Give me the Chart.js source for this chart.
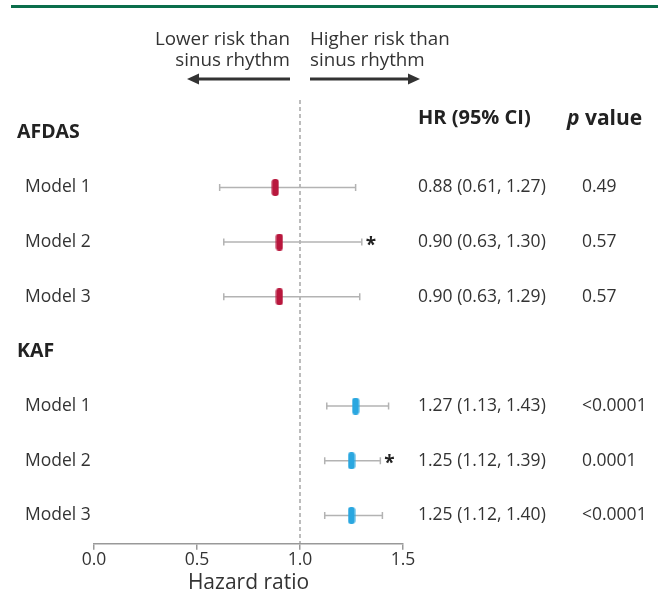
<!DOCTYPE html>
<html>
<head>
<meta charset="utf-8">
<script src="https://cdn.jsdelivr.net/npm/chart.js@4.4.0/dist/chart.umd.min.js"></script>
<style>
  html, body { margin: 0; padding: 0; background: #fff; }
  #wrap { width: 658px; height: 596px; position: relative; }
</style>
</head>
<body>
<div id="wrap"><canvas id="grafico"></canvas></div>
<script>
// rows, top to bottom (0 = AFDAS header, 4 = KAF header)
var grupos = ["AFDAS", "KAF"];
var grupoLinha = [0, 4];
var modelos = ["Model 1", "Model 2", "Model 3", "Model 1", "Model 2", "Model 3"];
var linhas = [1, 2, 3, 5, 6, 7];
var hr = [0.88, 0.90, 0.90, 1.27, 1.25, 1.25];
var ciBaixo = [0.61, 0.63, 0.63, 1.13, 1.12, 1.12];
var ciAlto = [1.27, 1.30, 1.29, 1.43, 1.39, 1.40];
var textoHR = ["0.88 (0.61, 1.27)", "0.90 (0.63, 1.30)", "0.90 (0.63, 1.29)",
	"1.27 (1.13, 1.43)", "1.25 (1.12, 1.39)", "1.25 (1.12, 1.40)"];
var textoP = ["0.49", "0.57", "0.57", "<0.0001", "0.0001", "<0.0001"];
var asterisco = [false, true, false, false, true, false];
var ticksX = [0, 0.5, 1, 1.5];

var vermelho = "#b8173d";
var azul = "#2aa7e0";
var cinza = "#b3b3b3";
var fonte = "'Open Sans', sans-serif";

function marcador(cor) {
	var c = document.createElement("canvas");
	c.width = 8;
	c.height = 17;
	var g = c.getContext("2d");
	g.fillStyle = cor;
	g.beginPath();
	g.roundRect(0.5, 0, 7, 17, 3);
	g.fill();
	return c;
}

var datasets = [];
// whiskers with caps
for (var i = 0; i < hr.length; i++) {
	datasets.push({
		type: "scatter",
		showLine: true,
		data: [{ x: ciBaixo[i], y: linhas[i] }, { x: ciAlto[i], y: linhas[i] }],
		borderColor: cinza,
		borderWidth: 1.5,
		pointStyle: "line",
		pointRotation: 90,
		pointRadius: 3.5,
		pointBorderColor: cinza,
		pointBorderWidth: 1.5,
		order: 2,
	});
}
// point estimates
datasets.push({
	type: "scatter",
	data: hr.slice(0, 3).map(function (v, k) { return { x: v, y: linhas[k] }; }),
	pointStyle: marcador(vermelho),
	order: 1,
});
datasets.push({
	type: "scatter",
	data: hr.slice(3).map(function (v, k) { return { x: v, y: linhas[k + 3] }; }),
	pointStyle: marcador(azul),
	order: 1,
});

function seta(ctx, x0, x1, y) {
	var dir = x1 > x0 ? 1 : -1;
	ctx.save();
	ctx.strokeStyle = "#333";
	ctx.fillStyle = "#333";
	ctx.lineWidth = 3;
	ctx.beginPath();
	ctx.moveTo(x0, y);
	ctx.lineTo(x1 - dir * 8, y);
	ctx.stroke();
	ctx.beginPath();
	ctx.moveTo(x1, y);
	ctx.lineTo(x1 - dir * 12, y - 5.5);
	ctx.lineTo(x1 - dir * 12, y + 5.5);
	ctx.closePath();
	ctx.fill();
	ctx.restore();
}

var textosPlugin = {
	id: "textos",
	beforeDatasetsDraw: function (chart) {
		var ctx = chart.ctx;
		var x = chart.scales.x;
		var area = chart.chartArea;
		var x1 = x.getPixelForValue(1);
		ctx.save();
		ctx.strokeStyle = "#999";
		ctx.lineWidth = 1.3;
		ctx.setLineDash([4, 3]);
		ctx.beginPath();
		ctx.moveTo(x1, area.top);
		ctx.lineTo(x1, area.bottom);
		ctx.stroke();
		ctx.restore();
	},
	afterDraw: function (chart) {
		var ctx = chart.ctx;
		var x = chart.scales.x;
		var y = chart.scales.y;
		var area = chart.chartArea;
		var x1 = x.getPixelForValue(1);
		ctx.save();

		// green rule on top
		ctx.fillStyle = "#0b6e4b";
		ctx.fillRect(11, 5, 647, 3);

		// direction labels
		ctx.fillStyle = "#333";
		ctx.font = "18.8px " + fonte;
		ctx.textBaseline = "middle";
		ctx.textAlign = "right";
		ctx.fillText("Lower risk than", x1 - 10, 40);
		ctx.fillText("sinus rhythm", x1 - 10, 61);
		ctx.textAlign = "left";
		ctx.fillText("Higher risk than", x1 + 10, 40);
		ctx.fillText("sinus rhythm", x1 + 10, 61);
		seta(ctx, x1 - 10, x1 - 113, 79);
		seta(ctx, x1 + 10, x1 + 120, 79);

		// column headers
		var colHR = area.right + 15;
		var colP = area.right + 164;
		var yCab = y.getPixelForValue(0) - 14;
		ctx.fillStyle = "#222";
		ctx.font = "bold 20px " + fonte;
		ctx.fillText("HR (95% CI)", colHR, yCab);
		ctx.font = "italic bold 21px " + fonte;
		ctx.fillText("p", colP, yCab);
		var wp = ctx.measureText("p ").width;
		ctx.font = "bold 21px " + fonte;
		ctx.fillText("value", colP + wp, yCab);

		// group headers
		for (var g = 0; g < grupos.length; g++) {
			ctx.font = "bold 19.5px " + fonte;
			ctx.fillText(grupos[g], 17, y.getPixelForValue(grupoLinha[g]));
		}

		// rows
		for (var i = 0; i < modelos.length; i++) {
			var py = y.getPixelForValue(linhas[i]);
			ctx.fillStyle = "#333";
			ctx.font = "17.5px " + fonte;
			ctx.fillText(modelos[i], 25, py);
			ctx.fillText(textoHR[i], colHR, py);
			ctx.fillText(textoP[i], colP + 15, py);
			if (asterisco[i]) {
				ctx.fillStyle = "#222";
				ctx.font = "bold 19px " + fonte;
				ctx.fillText("*", x.getPixelForValue(ciAlto[i]) + 4, py + 3);
			}
		}
		ctx.restore();
	},
};

new Chart(document.getElementById("grafico"), {
	type: "scatter",
	data: { datasets: datasets },
	options: {
		responsive: true,
		maintainAspectRatio: false,
		animation: false,
		layout: { padding: { left: 94, right: 255, top: 100, bottom: 0 } },
		scales: {
			x: {
				type: "linear",
				min: 0,
				max: 1.5,
				afterBuildTicks: function (axis) {
					axis.ticks = ticksX.map(function (v) { return { value: v }; });
				},
				ticks: {
					color: "#333",
					padding: 0,
					font: { family: fonte, size: 17.5 },
					callback: function (v) { return Number(v).toFixed(1); },
				},
				grid: { drawOnChartArea: false, drawTicks: true, tickLength: 6, color: "#999", lineWidth: 1.5 },
				border: { display: true, color: "#999", width: 1.5 },
				title: {
					display: true,
					text: "Hazard ratio",
					color: "#333",
					padding: { top: 0, bottom: 0 },
					font: { family: fonte, size: 21 },
				},
			},
			y: {
				type: "linear",
				display: false,
				reverse: true,
				min: -0.6,
				max: 7.52,
			},
		},
		plugins: {
			legend: { display: false },
			tooltip: { enabled: false },
		},
	},
	plugins: [textosPlugin],
});
</script>
</body>
</html>
